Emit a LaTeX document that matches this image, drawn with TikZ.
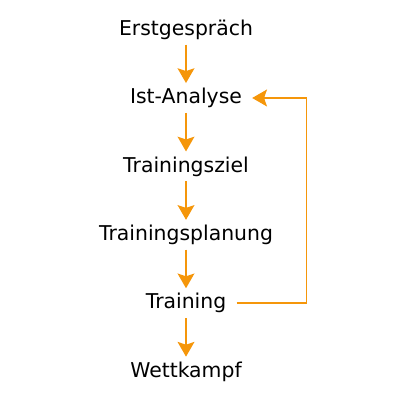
\documentclass[tikz,border=0pt]{standalone}
\usepackage{fontspec}
\setmainfont{DejaVu Sans}
\usepackage{tikz}
\usetikzlibrary{positioning, arrows.meta}
\definecolor{fborange}{HTML}{F5960A}

\begin{document}
\begin{tikzpicture}[
  node distance=1.71cm, on grid,
  phase/.style={
    rectangle, inner xsep=0.25cm, inner ysep=0.12cm,
    font=\fontsize{14.5}{17}\selectfont, align=center
  },
  arr/.style={-{Stealth[length=10.5pt, width=12pt, inset=2pt]}, line width=1pt, color=fborange},
]
\useasboundingbox (0,0) rectangle (10,10);

% Phases
\node[phase] (erst) at (4.65,9.26) {Erstgespräch};
\node[phase, below=of erst] (ist) {Ist-Analyse};
\node[phase, below=of ist] (ziel) {Trainingsziel};
\node[phase, below=of ziel] (plan) {Trainingsplanung};
\node[phase, below=of plan] (train) {Training};
\node[phase, below=of train] (wett) {Wettkampf};

% Flow
\draw[arr] (erst) -- (ist);
\draw[arr] (ist) -- (ziel);
\draw[arr] (ziel) -- (plan);
\draw[arr] (plan) -- (train);
\draw[arr] (train) -- (wett);

% Feedback
\draw[arr] (train.east) -- ++(1.75,0) |- (ist.east);

\end{tikzpicture}
\end{document}
